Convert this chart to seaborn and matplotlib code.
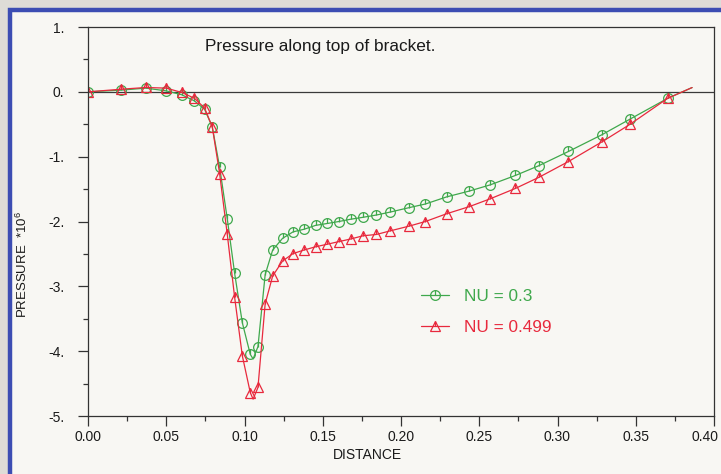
import numpy as np
import pandas as pd
import seaborn as sns
import matplotlib
matplotlib.use("Agg")
import matplotlib.pyplot as plt
from matplotlib.path import Path
from matplotlib.patches import Rectangle
from matplotlib.ticker import MultipleLocator, FuncFormatter
from matplotlib.transforms import ScaledTranslation

# values (pressure in units of 1e6)
distance = [0.0, 0.021, 0.037, 0.05, 0.06, 0.068, 0.0745, 0.0794, 0.0841, 0.089,
            0.0937, 0.0986, 0.1037, 0.1055, 0.1086, 0.1132, 0.118, 0.1243, 0.131, 0.138,
            0.1454, 0.153, 0.1603, 0.1678, 0.1758, 0.1843, 0.193, 0.2054, 0.2156, 0.2292,
            0.2437, 0.257, 0.2731, 0.288, 0.307, 0.3285, 0.3464, 0.3704, 0.386]
pressure_nu03 = [0.0, 0.026, 0.057, 0.015, -0.046, -0.14, -0.27, -0.54, -1.16, -1.96,
                 -2.80, -3.56, -4.05, -4.12, -3.93, -2.82, -2.44, -2.26, -2.16, -2.12,
                 -2.06, -2.03, -2.00, -1.965, -1.935, -1.90, -1.855, -1.785, -1.73, -1.62,
                 -1.53, -1.435, -1.29, -1.14, -0.92, -0.66, -0.42, -0.10, 0.066]
pressure_nu0499 = [0.0, 0.04, 0.067, 0.057, -0.01, -0.10, -0.25, -0.54, -1.26, -2.20,
                   -3.17, -4.07, -4.64, -4.74, -4.56, -3.27, -2.84, -2.61, -2.495, -2.44,
                   -2.39, -2.35, -2.31, -2.27, -2.22, -2.20, -2.145, -2.07, -2.00, -1.88,
                   -1.77, -1.65, -1.49, -1.32, -1.075, -0.77, -0.50, -0.10, 0.066]
# points that carry no symbol (the curve has a couple of unmarked points)
unmarked = [13, 38]
series_labels = ["NU = 0.3", "NU = 0.499"]
xticks = [0.0, 0.05, 0.10, 0.15, 0.20, 0.25, 0.30, 0.35, 0.40]
yticks = [1, 0, -1, -2, -3, -4, -5]

df = pd.DataFrame({"distance": distance, "nu03": pressure_nu03, "nu0499": pressure_nu0499})
marked = [i for i in range(len(distance)) if i not in unmarked]

sns.set_theme(style="white")
plt.rcParams["font.family"] = ["Liberation Sans", "DejaVu Sans"]
plt.rcParams["mathtext.fontset"] = "custom"
plt.rcParams["mathtext.rm"] = "Liberation Sans"

fig = plt.figure(figsize=(7.21, 4.74), dpi=100, facecolor="#dedcd7")
# scanned page panel with blue frame
fig.patches.append(Rectangle((10 / 721, -0.05), 1.2, 1 - 10 / 474 + 0.05,
                             transform=fig.transFigure, facecolor="#f8f7f3",
                             edgecolor="#3c4db3", linewidth=3.2, zorder=-10))
ax = fig.add_axes([88 / 721, 1 - 416 / 474, 626 / 721, 389 / 474])
ax.set_facecolor("none")

green = "#3fa84c"
red = "#e8293d"
tick_mark = Path([(0, 0), (0, 1)], [Path.MOVETO, Path.LINETO])

handles = []
for col, color, mk, lab in [("nu03", green, "o", series_labels[0]),
                            ("nu0499", red, "^", series_labels[1])]:
    sns.lineplot(data=df, x="distance", y=col, ax=ax, color=color, lw=0.9,
                 sort=False, estimator=None, marker=mk, markevery=marked,
                 markersize=7, mfc="none", mec=color, mew=0.9)
    sns.lineplot(data=df, x="distance", y=col, ax=ax, color=color, lw=0,
                 sort=False, estimator=None, marker=tick_mark, markevery=marked,
                 markersize=7, mec=color, mew=0.9)
    lines = ax.get_lines()
    handles.append((lines[-2], lines[-1]))

ax.axhline(0, color="#3a3a3a", lw=0.9, zorder=1)

ax.set_xlim(0, 0.40)
ax.set_ylim(-5, 1)
ax.set_xticks(xticks)
ax.set_yticks(yticks)
ax.xaxis.set_minor_locator(MultipleLocator(0.025))
ax.yaxis.set_minor_locator(MultipleLocator(0.5))
ax.xaxis.set_major_formatter(FuncFormatter(lambda v, p: f"{v:.2f}"))
ax.yaxis.set_major_formatter(FuncFormatter(lambda v, p: f"{int(round(v))}."))
ax.tick_params(axis="both", which="major", direction="out", length=7, width=0.9,
               color="#333333", labelsize=10, labelcolor="#1a1a1a")
ax.tick_params(axis="both", which="minor", direction="out", length=3.5, width=0.9,
               color="#333333")
ax.tick_params(axis="x", which="major", pad=3)
ax.tick_params(axis="y", which="major", pad=10)
ax.tick_params(bottom=True, left=True, which="both")
for s in ax.spines.values():
    s.set_color("#333333")
    s.set_linewidth(0.9)

# last x label sits a bit left so it stays inside the page
last = ax.get_xticklabels()[-1]
last.set_horizontalalignment("right")
last.set_transform(last.get_transform() + ScaledTranslation(0.04, 0, fig.dpi_scale_trans))

ax.set_xlabel("DISTANCE", fontsize=10, color="#1a1a1a")
ax.xaxis.set_label_coords(0.447, -0.083)
ax.set_ylabel("PRESSURE  *10$^{6}$", fontsize=9.5, color="#1a1a1a")
ax.yaxis.set_label_coords(-0.092, 0.39)

ax.text(0.187, 0.949, "Pressure along top of bracket.", transform=ax.transAxes,
        ha="left", va="center", fontsize=12.4, color="#1a1a1a")

leg = ax.legend(handles, series_labels, loc="center left",
                bbox_to_anchor=((421 - 88) / 626, (416 - 312) / 389),
                frameon=False, fontsize=12.4, handlelength=1.6,
                handletextpad=0.9, labelspacing=0.95, borderaxespad=0, borderpad=0)
for txt, color in zip(leg.get_texts(), [green, red]):
    txt.set_color(color)

fig.savefig("out.png", dpi=100, facecolor=fig.get_facecolor())
